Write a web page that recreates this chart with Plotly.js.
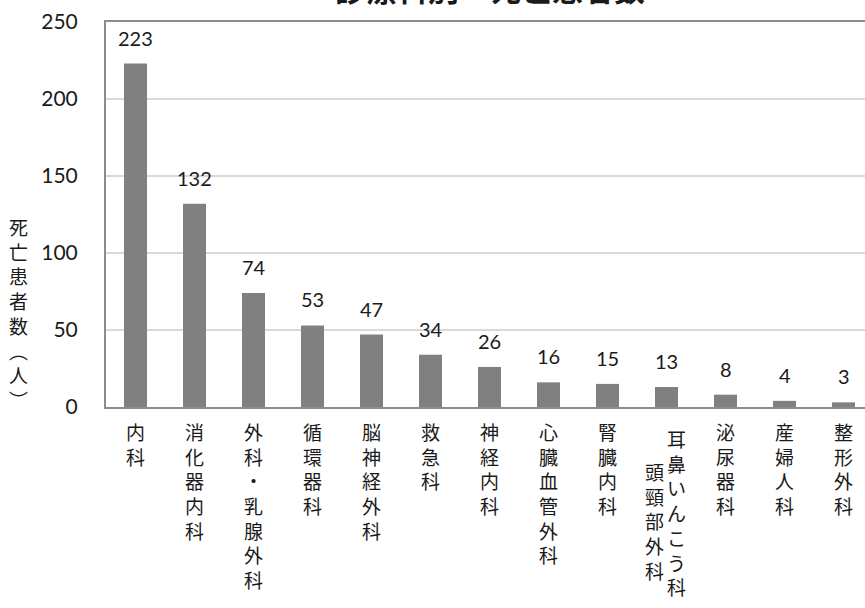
<!DOCTYPE html>
<html>
<head>
<meta charset="utf-8">
<script src="https://cdn.plot.ly/plotly-3.0.1.min.js"></script>
<style>
  html, body { margin: 0; padding: 0; background: #fff; overflow: hidden; }
  #chart { width: 880px; height: 608px; }
</style>
</head>
<body>
<div id="chart"></div>
<script>
// 診療科別の死亡患者数
const departments = [
  '内科', '消化器内科', '外科・乳腺外科', '循環器科', '脳神経外科', '救急科',
  '神経内科', '心臓血管外科', '腎臓内科', '耳鼻いんこう科・頭頸部外科',
  '泌尿器科', '産婦人科', '整形外科'
];
const deaths = [223, 132, 74, 53, 47, 34, 26, 16, 15, 13, 8, 4, 3];
const yTicks = [0, 50, 100, 150, 200, 250];

const titleText = '診療科別　死亡患者数';
const yTitleText = '死亡患者数︵人︶';

const CJK = '"Noto Sans CJK JP", "Noto Sans", sans-serif';
const NUM = 'Lato, "Noto Sans", sans-serif';
const TEXT_COLOR = '#1a1a1a';

// stack characters vertically
const vertical = s => Array.from(s).join('<br>');

// long names wrap into a second column (right column first, as in vertical writing)
const MAX_COL = 8;
function columns(name) {
  const chars = Array.from(name);
  if (chars.length <= MAX_COL) return [name];
  return [chars.slice(0, MAX_COL).join(''), chars.slice(MAX_COL).join('')];
}

const tickText = departments.map(d => columns(d).length === 1 ? vertical(d) : '');

const annotations = [];

// value labels above the bars
departments.forEach((d, i) => {
  annotations.push({
    x: d, y: deaths[i], xref: 'x', yref: 'y',
    text: String(deaths[i]), showarrow: false,
    yanchor: 'bottom', yshift: 12,
    font: { family: NUM, size: 20, color: TEXT_COLOR }
  });
});

// two-column category names
departments.forEach(d => {
  const cols = columns(d);
  if (cols.length < 2) return;
  annotations.push({
    x: d, y: 0, xref: 'x', yref: 'paper',
    text: vertical(cols[0]), showarrow: false,
    xanchor: 'center', yanchor: 'top', xshift: 10, yshift: -16,
    font: { family: CJK, size: 19, color: TEXT_COLOR }
  });
  annotations.push({
    x: d, y: 0, xref: 'x', yref: 'paper',
    text: vertical(cols[1]), showarrow: false,
    xanchor: 'center', yanchor: 'top', xshift: -12, yshift: -49,
    font: { family: CJK, size: 19, color: TEXT_COLOR }
  });
});

// chart title
annotations.push({
  x: 0.5, y: 1, xref: 'paper', yref: 'paper',
  text: '<b>' + titleText + '</b>', showarrow: false,
  xanchor: 'center', yanchor: 'bottom', yshift: 10,
  font: { family: CJK, size: 31, color: TEXT_COLOR }
});

// vertical y-axis title
annotations.push({
  x: 0, y: 0.244, xref: 'paper', yref: 'paper',
  text: vertical(yTitleText), showarrow: false,
  xanchor: 'center', yanchor: 'middle', xshift: -88,
  font: { family: CJK, size: 19, color: TEXT_COLOR }
});

const trace = {
  type: 'bar',
  x: departments,
  y: deaths,
  marker: { color: '#808080', line: { width: 0 } },
  hoverinfo: 'x+y'
};

const layout = {
  width: 880,
  height: 608,
  margin: { l: 106, r: 7, t: 22, b: 201 },
  paper_bgcolor: '#ffffff',
  plot_bgcolor: '#ffffff',
  bargap: 0.61,
  showlegend: false,
  xaxis: {
    type: 'category',
    tickmode: 'array',
    tickvals: departments,
    ticktext: tickText,
    tickangle: 0,
    ticks: '',
    ticklabelstandoff: 8,
    showgrid: false,
    showline: true,
    linecolor: '#8c8c8c',
    linewidth: 2,
    mirror: true,
    tickfont: { family: CJK, size: 19, color: TEXT_COLOR },
    fixedrange: true
  },
  yaxis: {
    range: [0, 250],
    tickmode: 'array',
    tickvals: yTicks,
    ticktext: yTicks.map(String),
    ticks: '',
    ticklabelstandoff: 22,
    showgrid: true,
    gridcolor: '#d9d9d9',
    gridwidth: 2,
    zeroline: false,
    showline: true,
    linecolor: '#8c8c8c',
    linewidth: 2,
    mirror: true,
    tickfont: { family: NUM, size: 21, color: TEXT_COLOR },
    fixedrange: true
  },
  annotations: annotations
};

Plotly.newPlot('chart', [trace], layout, { displayModeBar: false, staticPlot: true });
</script>
</body>
</html>
